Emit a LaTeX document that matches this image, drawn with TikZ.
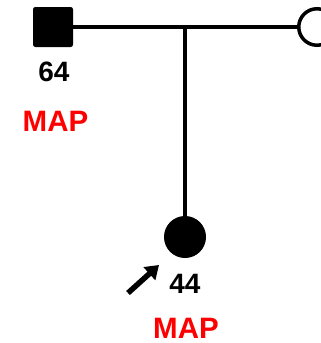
\documentclass[tikz,border=0pt]{standalone}
\usepackage{fontspec}
\setmainfont{Liberation Sans}
\usetikzlibrary{arrows.meta,positioning}

\begin{document}
\begin{tikzpicture}[
      x=1pt, y=-1pt,
      male/.style={draw, fill=black, rounded corners=2pt, minimum size=39pt, inner sep=0pt, line width=1pt},
      female/.style={draw, circle, minimum size=36.5pt, inner sep=0pt, line width=3.5pt},
      affected/.style={fill=black, line width=1pt, minimum size=41pt},
      age/.style={font=\bfseries\fontsize{28}{30}\selectfont, inner sep=0pt},
      diag/.style={font=\bfseries\fontsize{29.5}{31}\selectfont, text=red, inner sep=0pt},
      rel/.style={line width=3.5pt},
      >={Triangle[length=13pt,width=17pt]}
    ]
    \clip (0,0) rectangle (321,343);

    \node[male] (I1) at (53,27) {};
    \node[female] (I2) at (317,27) {};
    \coordinate (sib) at (185,27);
    \node[female, affected] (II1) at (185,237) {};

    \draw[rel] (I1) -- (I2);
    \draw[rel] (sib) -- (II1);

    \node[age, below=15pt of I1, xshift=1pt] (I1age) {64};
    \node[diag, below=29pt of I1age, xshift=1.5pt] (I1dx) {MAP};
    \node[age, below=16pt of II1] (II1age) {44};
    \node[diag, below=24pt of II1age, xshift=1pt] (II1dx) {MAP};

    % proband arrow
    \coordinate (pbtail) at (128,293);
    \coordinate (pbtip) at (159,265);
    \draw[->, line width=5.5pt] (pbtail) -- (pbtip);
\end{tikzpicture}
\end{document}
